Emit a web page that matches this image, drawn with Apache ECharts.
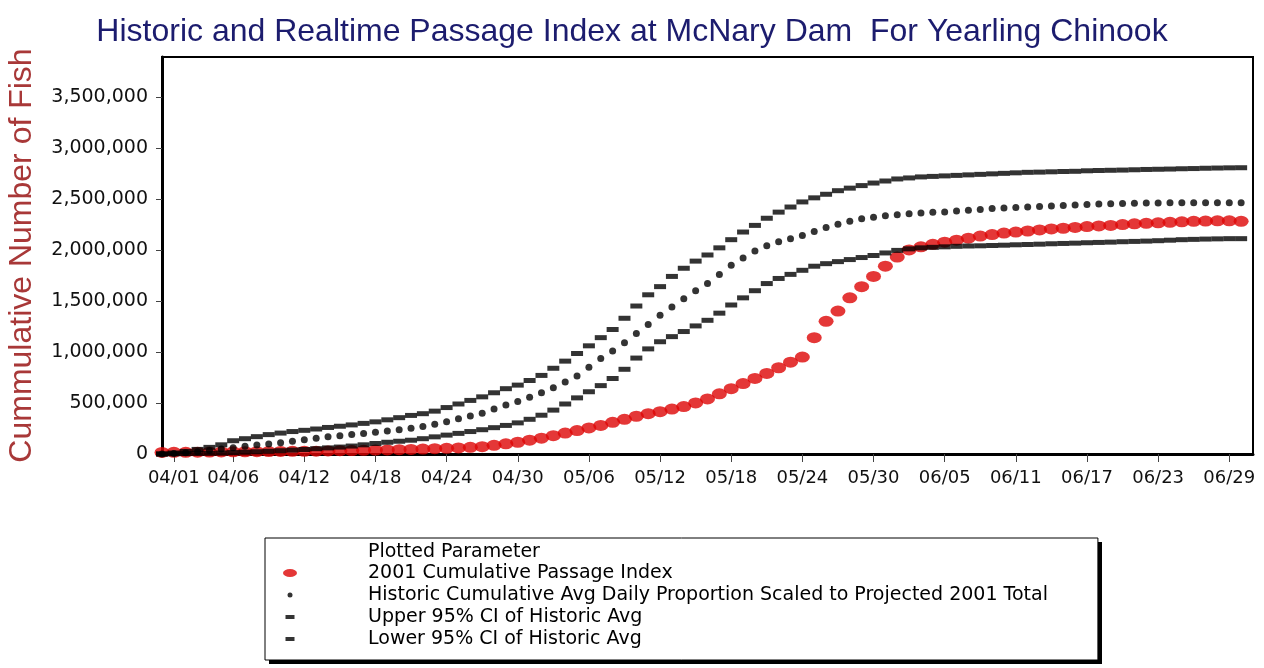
<!DOCTYPE html>
<html>
<head>
<meta charset="utf-8">
<script src="https://cdn.jsdelivr.net/npm/echarts@6/dist/echarts.min.js"></script>
<style>
  html, body { margin: 0; padding: 0; background: #fff; }
  #chart { width: 1264px; height: 668px; }
</style>
</head>
<body>
<div id="chart"></div>
<script>
// daily categories, 03/31 .. 07/01 (2001)
const days = [];
for (let d = new Date(2001, 2, 31); d <= new Date(2001, 6, 1); d.setDate(d.getDate() + 1)) {
  const mm = String(d.getMonth() + 1).padStart(2, '0');
  const dd = String(d.getDate()).padStart(2, '0');
  days.push(mm + '/' + dd);
}

const tickDates = ['04/01', '04/06', '04/12', '04/18', '04/24', '04/30', '05/06', '05/12',
  '05/18', '05/24', '05/30', '06/05', '06/11', '06/17', '06/23', '06/29'];

const yTicks = [0, 500000, 1000000, 1500000, 2000000, 2500000, 3000000, 3500000];

// 2001 cumulative passage index (03/31 .. 06/30)
const passage2001 = [
  15000, 16000, 17000, 18000, 19000, 20000, 21000, 22000, 23000, 24000,
  25000, 26000, 27000, 28000, 30000, 32000, 34000, 36000, 38000, 40000,
  42000, 45000, 48000, 52000, 56000, 60000, 65000, 72000, 85000, 100000,
  115000, 135000, 155000, 180000, 205000, 230000, 255000, 280000, 310000, 340000,
  370000, 395000, 415000, 440000, 465000, 500000, 540000, 590000, 640000, 690000,
  740000, 790000, 845000, 900000, 950000, 1140000, 1300000, 1400000, 1530000, 1640000,
  1740000, 1840000, 1930000, 2000000, 2030000, 2055000, 2075000, 2095000, 2115000, 2135000,
  2150000, 2165000, 2175000, 2185000, 2195000, 2205000, 2212000, 2220000, 2228000, 2235000,
  2240000, 2248000, 2255000, 2260000, 2265000, 2270000, 2275000, 2280000, 2282000, 2285000,
  2285000, 2280000
];

// historic cumulative avg daily proportion scaled to projected 2001 total
const historicAvg = [
  0, 5000, 12000, 22000, 35000, 50000, 62000, 75000, 88000, 98000,
  110000, 125000, 140000, 155000, 168000, 178000, 190000, 200000, 212000, 225000,
  238000, 252000, 270000, 292000, 315000, 345000, 372000, 400000, 440000, 480000,
  515000, 555000, 600000, 650000, 705000, 765000, 850000, 935000, 1010000, 1090000,
  1180000, 1270000, 1360000, 1440000, 1520000, 1600000, 1670000, 1760000, 1850000, 1920000,
  1990000, 2040000, 2080000, 2110000, 2140000, 2180000, 2220000, 2250000, 2280000, 2305000,
  2320000, 2335000, 2345000, 2355000, 2362000, 2368000, 2372000, 2380000, 2388000, 2395000,
  2405000, 2410000, 2415000, 2420000, 2425000, 2430000, 2435000, 2440000, 2445000, 2450000,
  2452000, 2455000, 2458000, 2460000, 2460000, 2461000, 2461000, 2462000, 2462000, 2462000,
  2462000, 2462000
];

// upper 95% CI of historic avg
const upperCI = [
  0, 10000, 25000, 45000, 65000, 90000, 130000, 150000, 170000, 190000,
  205000, 220000, 232000, 245000, 260000, 272000, 285000, 300000, 315000, 335000,
  356000, 378000, 395000, 420000, 455000, 490000, 525000, 560000, 600000, 640000,
  675000, 720000, 770000, 840000, 910000, 985000, 1060000, 1140000, 1220000, 1330000,
  1450000, 1560000, 1640000, 1740000, 1820000, 1890000, 1950000, 2020000, 2100000, 2175000,
  2240000, 2310000, 2370000, 2420000, 2470000, 2510000, 2545000, 2580000, 2605000, 2630000,
  2655000, 2675000, 2695000, 2705000, 2715000, 2720000, 2725000, 2730000, 2735000, 2740000,
  2745000, 2750000, 2755000, 2760000, 2762000, 2765000, 2768000, 2770000, 2775000, 2778000,
  2780000, 2782000, 2785000, 2788000, 2790000, 2792000, 2795000, 2797000, 2800000, 2802000,
  2804000, 2805000
];

// lower 95% CI of historic avg
const lowerCI = [
  0, 2000, 4000, 6000, 8000, 10000, 14000, 18000, 22000, 27000,
  32000, 38000, 44000, 52000, 60000, 68000, 78000, 90000, 103000, 115000,
  125000, 135000, 150000, 168000, 185000, 202000, 220000, 238000, 258000, 280000,
  305000, 340000, 380000, 430000, 490000, 550000, 610000, 670000, 740000, 830000,
  940000, 1030000, 1100000, 1150000, 1200000, 1255000, 1310000, 1380000, 1460000, 1530000,
  1600000, 1670000, 1720000, 1760000, 1800000, 1840000, 1865000, 1885000, 1905000, 1925000,
  1945000, 1970000, 1995000, 2010000, 2020000, 2025000, 2030000, 2035000, 2038000, 2040000,
  2043000, 2046000, 2050000, 2053000, 2056000, 2060000, 2063000, 2066000, 2070000, 2073000,
  2076000, 2080000, 2083000, 2086000, 2090000, 2095000, 2100000, 2103000, 2106000, 2108000,
  2110000, 2110000
];

const seriesNames = [
  '2001 Cumulative Passage Index',
  'Historic Cumulative Avg Daily Proportion Scaled to Projected 2001 Total',
  'Upper 95% CI of Historic Avg',
  'Lower 95% CI of Historic Avg'
];

const labelFont = 'DejaVu Sans';
const showTick = (idx, val) => tickDates.includes(val);

const chart = echarts.init(document.getElementById('chart'));

const option = {
  backgroundColor: '#fff',
  animation: false,
  title: [
    {
      text: 'Historic and Realtime Passage Index at McNary Dam  For Yearling Chinook',
      left: 'center',
      top: 11,
      textStyle: { fontFamily: 'Liberation Sans', fontSize: 32, fontWeight: 'normal', color: '#1c1c6e' }
    },
    {
      text: 'Plotted Parameter',
      left: 368,
      top: 543,
      padding: 0,
      textStyle: { fontFamily: labelFont, fontSize: 19, fontWeight: 'normal', color: '#000' }
    }
  ],
  // drop shadow behind the legend box
  graphic: [
    {
      type: 'rect',
      left: 269,
      top: 542,
      shape: { width: 833, height: 122 },
      style: { fill: '#000' },
      z: 1
    }
  ],
  grid: {
    left: 162,
    right: 11,
    top: 57,
    bottom: 214,
    show: true,
    borderColor: '#000',
    borderWidth: 2,
    containLabel: false,
    outerBoundsMode: 'none'
  },
  legend: {
    orient: 'vertical',
    left: 265,
    top: 538,
    padding: [24, 50, 10, 15],
    itemWidth: 20,
    itemHeight: 14,
    itemGap: 0,
    backgroundColor: '#fff',
    borderColor: '#000',
    borderWidth: 1,
    borderRadius: 0,
    selectedMode: false,
    textStyle: {
      fontFamily: labelFont,
      fontSize: 19,
      color: '#000',
      lineHeight: 22,
      padding: [0, 0, 0, 63]
    },
    data: [
      { name: seriesNames[0], icon: 'path://M0,0M20,14M3,7A7,4,0,1,1,17,7A7,4,0,1,1,3,7Z' },
      { name: seriesNames[1], icon: 'path://M0,0M20,14M7.5,7A2.5,2.5,0,1,1,12.5,7A2.5,2.5,0,1,1,7.5,7Z' },
      { name: seriesNames[2], icon: 'path://M0,0M20,14M5.5,5H14.5V9H5.5Z' },
      { name: seriesNames[3], icon: 'path://M0,0M20,14M5.5,5H14.5V9H5.5Z' }
    ]
  },
  xAxis: {
    type: 'category',
    data: days,
    boundaryGap: false,
    axisLine: { lineStyle: { color: '#000', width: 3 } },
    axisTick: { show: true, interval: showTick, length: 8, lineStyle: { color: '#444', width: 1 } },
    axisLabel: {
      interval: showTick,
      margin: 15,
      fontFamily: labelFont,
      fontSize: 18,
      color: '#111'
    },
    splitLine: { show: false }
  },
  yAxis: {
    type: 'value',
    min: 0,
    max: 3890000,
    name: 'Cummulative Number of Fish',
    nameLocation: 'middle',
    nameGap: 124,
    nameTextStyle: { fontFamily: 'Liberation Sans', fontSize: 32, color: '#a83838' },
    axisLine: { show: true, lineStyle: { color: '#000', width: 3 } },
    axisTick: { show: true, length: 6, customValues: yTicks, lineStyle: { color: '#444', width: 1 } },
    axisLabel: {
      margin: 14,
      fontFamily: labelFont,
      fontSize: 19,
      color: '#111',
      customValues: yTicks,
      formatter: v => v.toLocaleString('en-US')
    },
    splitLine: { show: false }
  },
  series: [
    {
      name: seriesNames[0],
      type: 'scatter',
      data: passage2001,
      symbol: 'circle',
      symbolSize: [15, 11],
      itemStyle: { color: '#dd0505' },
      z: 2
    },
    {
      name: seriesNames[1],
      type: 'scatter',
      data: historicAvg,
      symbol: 'circle',
      symbolSize: 7,
      itemStyle: { color: '#000' },
      z: 3
    },
    {
      name: seriesNames[2],
      type: 'scatter',
      data: upperCI,
      symbol: 'rect',
      symbolSize: [12, 5],
      itemStyle: { color: '#000' },
      z: 3
    },
    {
      name: seriesNames[3],
      type: 'scatter',
      data: lowerCI,
      symbol: 'rect',
      symbolSize: [12, 5],
      itemStyle: { color: '#000' },
      z: 3
    }
  ]
};

chart.setOption(option);
</script>
</body>
</html>
